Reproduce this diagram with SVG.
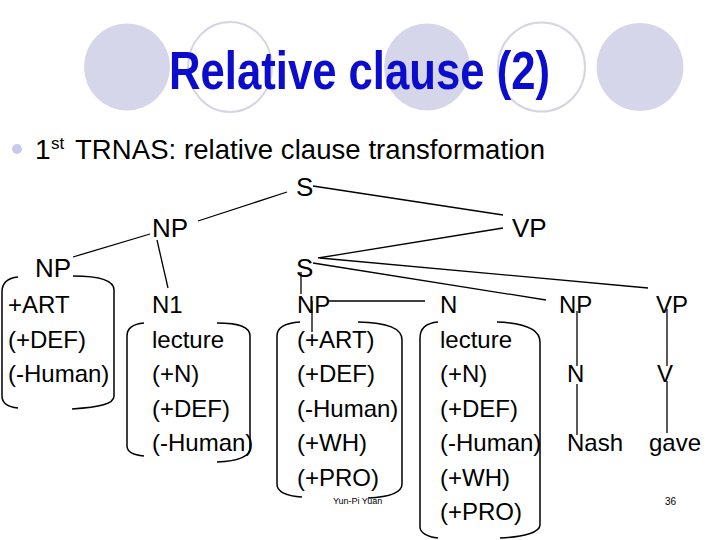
<svg xmlns="http://www.w3.org/2000/svg" width="720" height="540" viewBox="0 0 720 540">
<style>
.fill{fill:#d6d6eb}
.ring{fill:none;stroke:#d4d4e4;stroke-width:2}
.t{font-family:"Liberation Sans",Arial,sans-serif;fill:#000}
.lab{font-size:26px}
.col{font-size:24px}
.ln{stroke:#000;stroke-width:1.3;fill:none}
.br{stroke:#000;stroke-width:1.5;fill:none}
</style>
<rect width="720" height="540" fill="#fff"/>
<g id="decor">
<ellipse class="fill" cx="127" cy="67" rx="43" ry="43.5"/>
<ellipse class="ring" cx="230" cy="67" rx="42" ry="45"/>
<ellipse class="fill" cx="427" cy="67" rx="43" ry="43.5"/>
<ellipse class="ring" cx="541.5" cy="67" rx="43.5" ry="44.5"/>
<ellipse class="fill" cx="640" cy="67" rx="43.5" ry="44"/>
</g>
<text id="title" x="169" y="89" font-family="'Liberation Sans',Arial,sans-serif" font-weight="bold" font-size="54" fill="#0c0ccc" textLength="381" lengthAdjust="spacingAndGlyphs">Relative clause (2)</text>
<g id="bullet">
<circle cx="17" cy="149" r="5" fill="#c8c8ec"/>
<text class="t" font-size="28" x="35" y="159">1</text>
<text class="t" font-size="17" x="51" y="149">st</text>
<text class="t" font-size="27.5" x="75" y="159" textLength="470">TRNAS: relative clause transformation</text>
</g>
<g id="connectors">
<line class="ln" x1="287" y1="192" x2="198" y2="221"/>
<line class="ln" x1="313" y1="186" x2="503" y2="215"/>
<line class="ln" x1="150" y1="234" x2="73" y2="257"/>
<line class="ln" x1="157" y1="240" x2="168" y2="288"/>
<line class="ln" x1="503" y1="228" x2="318" y2="258"/>
<line class="ln" x1="320" y1="258" x2="648" y2="288"/>
<line class="ln" x1="313" y1="263" x2="546" y2="300"/>
<line class="ln" x1="301" y1="272" x2="301" y2="294"/>
<line class="ln" x1="312" y1="301" x2="312" y2="332"/>
<line class="ln" x1="328" y1="301" x2="425" y2="301"/>
<line class="ln" x1="577" y1="311" x2="577" y2="366"/>
<line class="ln" x1="577" y1="384" x2="577" y2="435"/>
<line class="ln" x1="667" y1="309" x2="667" y2="366"/>
<line class="ln" x1="667" y1="381" x2="667" y2="433"/>
</g>
<g id="brackets">
<path class="br" d="M18,277 C7,278 2,283 2,292 L2,396 C2,404 8,407 18,408"/>
<path class="br" d="M73,276 C100,276 114,280 114,290 L114,396 C114,404 100,407 72,409"/>
<path class="br" d="M144,323 C132,324 127,328 127,336 L127,446 C127,452 133,455 144,456"/>
<path class="br" d="M217,323 C240,323 250,327 250,336 L250,448 C250,456 240,461 217,462"/>
<path class="br" d="M300,322 C285,323 277,327 277,336 L277,484 C277,492 287,496 302,497"/>
<path class="br" d="M358,322 C388,323 402,328 402,340 L402,484 C402,492 390,497 368,498"/>
<path class="br" d="M438,322 C426,323 420,328 420,338 L420,527 C420,533 428,537 438,538"/>
<path class="br" d="M497,322 C525,323 540,330 540,342 L540,525 C540,532 525,537 500,538"/>
</g>
<g id="node-S-top"><text class="t lab" x="296" y="196">S</text></g>
<g id="node-NP-mid"><text class="t lab" x="152" y="237">NP</text></g>
<g id="node-VP-top"><text class="t lab" x="512" y="237">VP</text></g>
<g id="node-NP-left"><text class="t lab" x="35" y="277">NP</text></g>
<g id="node-S-low"><text class="t lab" x="296" y="277">S</text></g>
<g id="col1" class="t col">
<text x="8" y="313">+ART</text>
<text x="8" y="347.5">(+DEF)</text>
<text x="8" y="382">(-Human)</text>
</g>
<g id="col2" class="t col">
<text x="152" y="313">N1</text>
<text x="152" y="347.5">lecture</text>
<text x="152" y="382">(+N)</text>
<text x="152" y="416.5">(+DEF)</text>
<text x="152" y="451">(-Human)</text>
</g>
<g id="col3" class="t col">
<text x="297" y="313">NP</text>
<text x="297" y="347.5">(+ART)</text>
<text x="297" y="382">(+DEF)</text>
<text x="297" y="416.5">(-Human)</text>
<text x="297" y="451">(+WH)</text>
<text x="297" y="485.5">(+PRO)</text>
</g>
<g id="col4" class="t col">
<text x="440" y="313">N</text>
<text x="440" y="347.5">lecture</text>
<text x="440" y="382">(+N)</text>
<text x="440" y="416.5">(+DEF)</text>
<text x="440" y="451">(-Human)</text>
<text x="440" y="485.5">(+WH)</text>
<text x="440" y="520">(+PRO)</text>
</g>
<g id="col5" class="t col">
<text x="559" y="313">NP</text>
<text x="567" y="382">N</text>
<text x="567" y="451">Nash</text>
</g>
<g id="col6" class="t col">
<text x="656" y="313">VP</text>
<text x="657" y="382">V</text>
<text x="649" y="451">gave</text>
</g>
<g id="footer" class="t">
<text x="333" y="504" font-size="9">Yun-Pi Yuan</text>
<text x="665" y="505" font-size="10">36</text>
</g>
</svg>
